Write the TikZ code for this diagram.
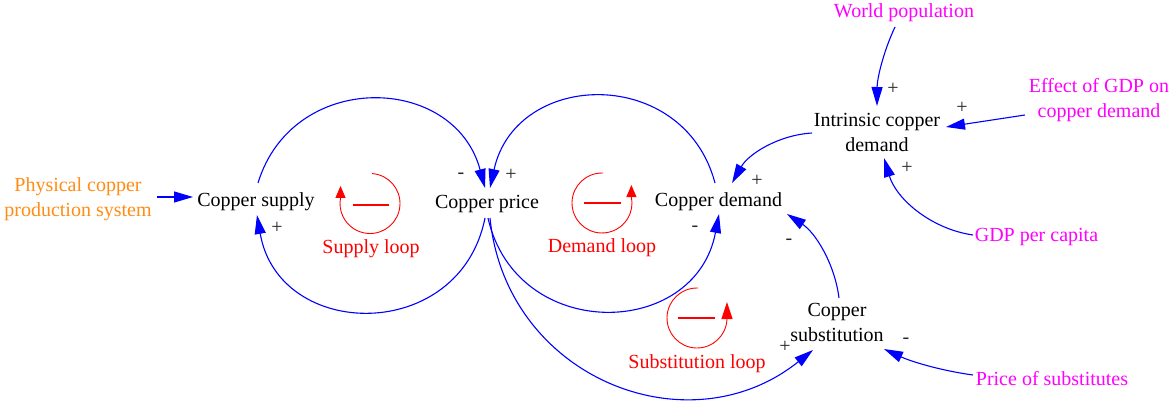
\documentclass[tikz,border=0pt]{standalone}
\usepackage{fontspec}
\setmainfont{Liberation Serif}
\usetikzlibrary{arrows.meta}
\definecolor{vblue}{RGB}{0,0,255}
\definecolor{vmag}{RGB}{255,0,255}
\definecolor{vorange}{RGB}{255,140,20}
\definecolor{vred}{RGB}{255,0,0}
\newcommand{\vfont}{\fontsize{20}{25}\selectfont}
\begin{document}
\begin{tikzpicture}[x=1pt,y=-1pt,
  var/.style={font=\vfont, align=center, inner sep=0pt},
  ext/.style={var, text=vmag},
  link/.style={draw=vblue, line width=1.1pt, -{Triangle[length=19pt,width=11pt]}},
  sign/.style={font=\vfont, inner sep=0pt, text=black!85},
  loopc/.style={draw=vred, line width=0.9pt},
  loopbar/.style={draw=vred, line width=2.7pt},
  looplab/.style={var, text=vred}]
\useasboundingbox (0,0) rectangle (1170,401);

% variables
\node[var, text=vorange] (phys) at (78,199.5) {Physical copper\\production system};
\node[var] (supply) at (256,201.4) {Copper supply};
\node[var] (price) at (487,204.4) {Copper price};
\node[var] (demand) at (718.5,201.4) {Copper demand};
\node[var] (intr) at (877,132.7) {Intrinsic copper\\demand};
\node[ext] (world) at (904,12.6) {World population};
\node[ext] (effect) at (1099,99.8) {Effect of GDP on\\copper demand};
\node[ext] (gdp) at (1036.5,237.4) {GDP per capita};
\node[var] (subst) at (837,322.7) {Copper\\substitution};
\node[ext] (psub) at (1052,378.2) {Price of substitutes};

% connectors
\draw[link] ([shift={(79,-2.5)}]phys.center) -- ([shift={(-63,-4.4)}]supply.center);
\draw[link] ([shift={(2,-18.4)}]supply.center) .. controls +(34.6,-113.4) and +(-30.7,-114.6) .. ([shift={(-2,-16.4)}]price.center);
\draw[link] ([shift={(-2,13.6)}]price.center) .. controls +(-25.1,125.7) and +(21.8,126.2) .. ([shift={(1,13.6)}]supply.center);
\draw[link] ([shift={(-3.5,-18.4)}]demand.center) .. controls +(-31.2,-117.4) and +(26.1,-118.7) .. ([shift={(3,-16.4)}]price.center);
\draw[link] ([shift={(1,13.6)}]price.center) .. controls +(28.2,124.9) and +(-23.8,125.8) .. ([shift={(0.5,12.6)}]demand.center);
\draw[link] ([shift={(3,13.6)}]price.center) .. controls +(16,160) and +(-125,100) .. ([shift={(-24,27.3)}]subst.center);
\draw[link] ([shift={(2,-24.7)}]subst.center) .. controls +(-4.3,-34.1) and +(28.7,19) .. ([shift={(68.5,12.6)}]demand.center);
\draw[link] ([shift={(-65,0.3)}]intr.center) .. controls +(-33.4,2) and +(16.5,-29.1) .. ([shift={(13.5,-18.4)}]demand.center);
\draw[link] ([shift={(-9,14.4)}]world.center) .. controls +(-11.7,24.7) and +(0.1,-27.3) .. ([shift={(0,-26.7)}]intr.center);
\draw[link] ([shift={(-74,15.2)}]effect.center) -- ([shift={(69,-5.7)}]intr.center);
\draw[link] ([shift={(-63.5,-2.4)}]gdp.center) .. controls +(-42.2,-6.1) and +(12.2,40.8) .. ([shift={(7,25.3)}]intr.center);
\draw[link] ([shift={(-79,-3.2)}]psub.center) .. controls +(-30.8,-4.2) and +(28.2,13) .. ([shift={(47,26.3)}]subst.center);

% polarity signs
\node[sign] (p1) at (277,228) {+};
\node[sign] (p2) at (461,176) {-};
\node[sign] (p3) at (511,175) {+};
\node[sign] (p4) at (757,181) {+};
\node[sign] (p5) at (695,229) {-};
\node[sign] (p6) at (789,242) {-};
\node[sign] (p7) at (893,89) {+};
\node[sign] (p8) at (962,108) {+};
\node[sign] (p9) at (907,168) {+};
\node[sign] (p10) at (785,347) {+};
\node[sign] (p11) at (906,341) {-};

% loop symbols
\draw[loopc, -{Triangle[length=12pt,width=10pt]}] (370,203.5) ++(86:30pt) arc[start angle=86, end angle=-190.6, radius=30pt] -- ++(0,-12);
\draw[loopbar] (353,205) -- (389,205);
\node[looplab] (l1) at (371,248.3) {Supply loop};

\draw[loopc, -{Triangle[length=12pt,width=10pt]}] (602,203) ++(88:30pt) arc[start angle=88, end angle=371.5, radius=30pt] -- ++(0,-12);
\draw[loopbar] (584,203) -- (621,203);
\node[looplab] (l2) at (602,247.3) {Demand loop};

\draw[loopc, -{Triangle[length=17pt,width=11pt]}] (697,318) ++(88:30pt) arc[start angle=88, end angle=358, radius=30pt] -- ++(0,-17);
\draw[loopbar] (678,318) -- (715,318);
\node[looplab] (l3) at (697,363.3) {Substitution loop};
\end{tikzpicture}
\end{document}
